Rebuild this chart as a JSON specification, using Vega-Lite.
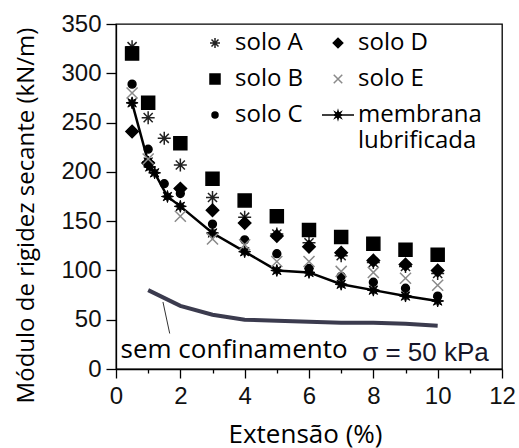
{
  "$schema": "https://vega.github.io/schema/vega-lite/v6.json",
  "autosize": "none",
  "width": 386,
  "height": 345,
  "padding": {"left": 116, "top": 24, "right": 17, "bottom": 79},
  "background": "white",
  "config": {
    "view": {"stroke": "black", "strokeWidth": 1.3},
    "axis": {"grid": false, "domainColor": "black", "domainWidth": 1.3, "tickColor": "black", "tickWidth": 1.3,
             "labelFont": "Liberation Sans", "labelFontSize": 24, "labelColor": "#111",
             "titleFont": "Open Sans", "titleFontSize": 24, "titleFontWeight": "normal", "titleColor": "black"}
  },
  "datasets": {
    "solos": [
      {"serie": "solo A", "ext": 0.5, "mod": 327}, {"serie": "solo A", "ext": 1, "mod": 255}, {"serie": "solo A", "ext": 1.5, "mod": 234},
      {"serie": "solo A", "ext": 2, "mod": 207}, {"serie": "solo A", "ext": 3, "mod": 174}, {"serie": "solo A", "ext": 4, "mod": 154},
      {"serie": "solo A", "ext": 5, "mod": 137}, {"serie": "solo A", "ext": 6, "mod": 128}, {"serie": "solo A", "ext": 7, "mod": 115},
      {"serie": "solo A", "ext": 8, "mod": 108}, {"serie": "solo A", "ext": 9, "mod": 104}, {"serie": "solo A", "ext": 10, "mod": 97},
      {"serie": "solo B", "ext": 0.5, "mod": 320}, {"serie": "solo B", "ext": 1, "mod": 270}, {"serie": "solo B", "ext": 2, "mod": 229},
      {"serie": "solo B", "ext": 3, "mod": 193}, {"serie": "solo B", "ext": 4, "mod": 171}, {"serie": "solo B", "ext": 5, "mod": 155},
      {"serie": "solo B", "ext": 6, "mod": 141}, {"serie": "solo B", "ext": 7, "mod": 134}, {"serie": "solo B", "ext": 8, "mod": 127},
      {"serie": "solo B", "ext": 9, "mod": 121}, {"serie": "solo B", "ext": 10, "mod": 116},
      {"serie": "solo C", "ext": 0.5, "mod": 289}, {"serie": "solo C", "ext": 1, "mod": 223}, {"serie": "solo C", "ext": 1.5, "mod": 188},
      {"serie": "solo C", "ext": 2, "mod": 178}, {"serie": "solo C", "ext": 3, "mod": 147}, {"serie": "solo C", "ext": 4, "mod": 131},
      {"serie": "solo C", "ext": 5, "mod": 117}, {"serie": "solo C", "ext": 6, "mod": 102}, {"serie": "solo C", "ext": 7, "mod": 94},
      {"serie": "solo C", "ext": 8, "mod": 88}, {"serie": "solo C", "ext": 9, "mod": 82}, {"serie": "solo C", "ext": 10, "mod": 74},
      {"serie": "solo D", "ext": 0.5, "mod": 241}, {"serie": "solo D", "ext": 1, "mod": 209}, {"serie": "solo D", "ext": 2, "mod": 183},
      {"serie": "solo D", "ext": 3, "mod": 161}, {"serie": "solo D", "ext": 4, "mod": 148}, {"serie": "solo D", "ext": 5, "mod": 135},
      {"serie": "solo D", "ext": 6, "mod": 124}, {"serie": "solo D", "ext": 7, "mod": 118}, {"serie": "solo D", "ext": 8, "mod": 110},
      {"serie": "solo D", "ext": 9, "mod": 106}, {"serie": "solo D", "ext": 10, "mod": 100},
      {"serie": "solo E", "ext": 0.5, "mod": 280}, {"serie": "solo E", "ext": 1, "mod": 213}, {"serie": "solo E", "ext": 2, "mod": 155},
      {"serie": "solo E", "ext": 3, "mod": 132}, {"serie": "solo E", "ext": 4, "mod": 126}, {"serie": "solo E", "ext": 5, "mod": 109},
      {"serie": "solo E", "ext": 6, "mod": 109}, {"serie": "solo E", "ext": 7, "mod": 99}, {"serie": "solo E", "ext": 8, "mod": 98},
      {"serie": "solo E", "ext": 9, "mod": 92}, {"serie": "solo E", "ext": 10, "mod": 85}
    ],
    "membrana": [
      {"ext": 0.5, "mod": 270}, {"ext": 1, "mod": 210}, {"ext": 1.05, "mod": 205}, {"ext": 1.2, "mod": 199},
      {"ext": 1.6, "mod": 175}, {"ext": 2, "mod": 165}, {"ext": 3, "mod": 138}, {"ext": 4, "mod": 119},
      {"ext": 5, "mod": 100}, {"ext": 6, "mod": 98}, {"ext": 7, "mod": 86}, {"ext": 8, "mod": 80},
      {"ext": 9, "mod": 74}, {"ext": 10, "mod": 69}
    ],
    "sem": [
      {"ext": 1, "mod": 80}, {"ext": 2, "mod": 64}, {"ext": 3, "mod": 55}, {"ext": 4, "mod": 50}, {"ext": 5, "mod": 49},
      {"ext": 6, "mod": 48}, {"ext": 7, "mod": 47}, {"ext": 8, "mod": 47}, {"ext": 9, "mod": 46}, {"ext": 10, "mod": 44}
    ]
  },
  "encoding": {
    "x": {"field": "ext", "type": "quantitative",
          "scale": {"domain": [0, 12], "nice": false, "zero": false},
          "axis": {"title": "Extensão (%)", "values": [0,1,2,3,4,5,6,7,8,9,10,11,12],
                   "tickSize": {"condition": {"test": "datum.value % 2 == 1", "value": 4}, "value": 9},
                   "labelExpr": "datum.value % 2 == 1 ? '' : datum.label",
                   "labelPadding": 6, "labelFlush": false, "labelOverlap": false,
                   "titleFontSize": 26,
                   "titleX": 189, "titleY": 73, "titleBaseline": "alphabetic", "titleAnchor": null, "titleAlign": "center"}},
    "y": {"field": "mod", "type": "quantitative",
          "scale": {"domain": [0, 350], "nice": false},
          "axis": {"title": "Módulo de rigidez secante (kN/m)", "values": [0,50,100,150,200,250,300,350],
                   "tickSize": 10, "labelPadding": 5, "labelFlush": false,
                   "titleX": -90, "titleY": 191, "titleAngle": -90, "titleBaseline": "middle", "titleAlign": "center"}}
  },
  "layer": [
    {"data": {"name": "sem"}, "mark": {"type": "line", "color": "#3b3b4e", "strokeWidth": 4}},
    {"data": {"values": [{"ext": 1.46, "mod": 68, "ext2": 1.67, "mod2": 36}]},
     "mark": {"type": "rule", "color": "#333", "strokeWidth": 1},
     "encoding": {"x2": {"field": "ext2"}, "y2": {"field": "mod2"}}},
    {"data": {"name": "membrana"}, "mark": {"type": "line", "color": "black", "strokeWidth": 2.5}},
    {"data": {"name": "membrana"},
     "mark": {"type": "point", "filled": true, "fill": "black", "stroke": "black", "strokeWidth": 1, "opacity": 1, "size": 144,
              "shape": "M1,0L0.416,0.172L0.707,0.707L0.172,0.416L0,1L-0.172,0.416L-0.707,0.707L-0.416,0.172L-1,0L-0.416,-0.172L-0.707,-0.707L-0.172,-0.416L0,-1L0.172,-0.416L0.707,-0.707L0.416,-0.172Z"}},
    {"data": {"name": "solos"},
     "mark": {"type": "point", "size": 169, "strokeWidth": 1.5, "opacity": 1, "fillOpacity": 1},
     "encoding": {
       "shape": {"field": "serie", "type": "nominal",
                 "scale": {"domain": ["solo A", "solo B", "solo C", "solo D", "solo E", "membrana lubrificada"],
                           "range": ["M-1,0L1,0M0,-1L0,1M-0.7,-0.7L0.7,0.7M-0.7,0.7L0.7,-0.7",
                                     "square",
                                     "M0.6,0A0.6,0.6 0 1,1 -0.6,0A0.6,0.6 0 1,1 0.6,0Z",
                                     "M0,-0.95L0.95,0L0,0.95L-0.95,0Z",
                                     "M-0.85,-0.85L0.85,0.85M-0.85,0.85L0.85,-0.85",
                                     "M-3.2,0L3.2,0M0.8,0L0.33,0.14L0.57,0.57L0.14,0.33L0,0.8L-0.14,0.33L-0.57,0.57L-0.33,0.14L-0.8,0L-0.33,-0.14L-0.57,-0.57L-0.14,-0.33L0,-0.8L0.14,-0.33L0.57,-0.57L0.33,-0.14Z"]},
                 "legend": {"orient": "none", "legendX": 87, "legendY": 7, "columns": 2, "title": null, "padding": 0,
                            "symbolSize": 100, "symbolStrokeWidth": 1.5, "labelFont": "Open Sans", "labelFontSize": 24,
                            "labelColor": "black", "labelOffset": 8, "columnPadding": 15, "rowPadding": 12, "labelLimit": 0,
                            "labelExpr": "datum.value == 'membrana lubrificada' ? ['membrana', 'lubrificada'] : datum.label",
                            "encode": {"labels": {"lineHeight": {"value": 38}}}}},
       "fill": {"field": "serie", "type": "nominal",
                "scale": {"domain": ["solo A", "solo B", "solo C", "solo D", "solo E", "membrana lubrificada"],
                          "range": ["black", "black", "black", "black", "black", "black"]}},
       "stroke": {"field": "serie", "type": "nominal",
                  "scale": {"domain": ["solo A", "solo B", "solo C", "solo D", "solo E", "membrana lubrificada"],
                            "range": ["#222", "black", "black", "black", "#8a8a8a", "black"]}}
     }},
    {"data": {"values": [{"ext": 0.14, "mod": 19, "txt": "sem confinamento"}]},
     "mark": {"type": "text", "align": "left", "baseline": "middle", "font": "Open Sans", "fontSize": 26, "color": "black"},
     "encoding": {"text": {"field": "txt"}}},
    {"data": {"values": [{"ext": 9.62, "mod": 16, "txt": "σ = 50 kPa"}]},
     "mark": {"type": "text", "align": "center", "baseline": "middle", "font": "Liberation Sans", "fontSize": 26, "color": "#15152a"},
     "encoding": {"text": {"field": "txt"}}}
  ]
}
